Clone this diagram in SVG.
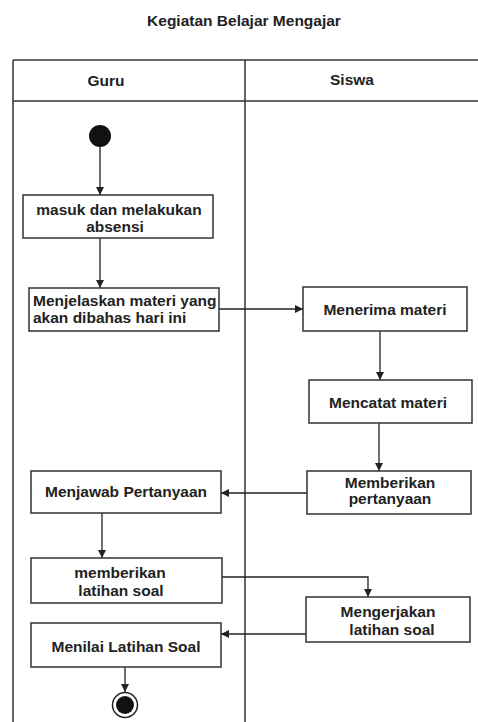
<svg xmlns="http://www.w3.org/2000/svg" width="478" height="722" viewBox="0 0 478 722">
  <style>
    text { font-family: "Liberation Sans", Arial, sans-serif; font-size: 15.5px; font-weight: bold; fill: #222; }
    .c { text-anchor: middle; }
    .lane { stroke: #333; stroke-width: 1.5; fill: none; }
    .box { fill: #fff; stroke: #333; stroke-width: 1.5; }
    .flow { stroke: #222; stroke-width: 1.3; fill: none; marker-end: url(#arrow); }
  </style>
  <defs>
    <marker id="arrow" viewBox="0 0 10 10" refX="10" refY="5" markerWidth="8" markerHeight="10" markerUnits="userSpaceOnUse" orient="auto">
      <path d="M0,0 L10,5 L0,10 z" fill="#222"/>
    </marker>
  </defs>
  <rect width="478" height="722" fill="#fff"/>

  <text class="c" x="244" y="26">Kegiatan Belajar Mengajar</text>

  <!-- swimlanes -->
  <g id="lanes">
    <line class="lane" x1="13" y1="60" x2="478" y2="60"/>
    <line class="lane" x1="13" y1="101" x2="478" y2="101"/>
    <line class="lane" x1="13" y1="60" x2="13" y2="722"/>
    <line class="lane" x1="245" y1="60" x2="245" y2="722"/>
    <text class="c" x="106" y="86">Guru</text>
    <text class="c" x="352" y="85">Siswa</text>
  </g>

  <!-- connectors -->
  <g id="connectors">
    <path class="flow" d="M100,147 V195"/>
    <path class="flow" d="M100,238 V288"/>
    <path class="flow" d="M219,309 H303"/>
    <path class="flow" d="M380,331 V380"/>
    <path class="flow" d="M379,423 V471"/>
    <path class="flow" d="M307,493 H221"/>
    <path class="flow" d="M102,513 V558"/>
    <path class="flow" d="M222,577 H368 V597"/>
    <path class="flow" d="M306,634 H221"/>
    <path class="flow" d="M125,667 V692"/>
  </g>

  <g id="start">
    <circle cx="100" cy="136" r="11" fill="#111"/>
  </g>

  <g id="masuk">
    <rect class="box" x="23" y="195" width="190" height="43"/>
    <text class="c" x="119" y="215">masuk dan melakukan</text>
    <text class="c" x="115" y="232">absensi</text>
  </g>

  <g id="menjelaskan">
    <rect class="box" x="29" y="288" width="190" height="43"/>
    <text x="33" y="306">Menjelaskan materi yang</text>
    <text x="33" y="323">akan dibahas hari ini</text>
  </g>

  <g id="menerima">
    <rect class="box" x="303" y="287" width="164" height="44"/>
    <text class="c" x="385" y="315">Menerima materi</text>
  </g>

  <g id="mencatat">
    <rect class="box" x="309" y="380" width="163" height="43"/>
    <text class="c" x="388" y="408">Mencatat materi</text>
  </g>

  <g id="memberikan-pertanyaan">
    <rect class="box" x="307" y="471" width="164" height="43"/>
    <text class="c" x="390" y="488">Memberikan</text>
    <text class="c" x="390" y="504">pertanyaan</text>
  </g>

  <g id="menjawab">
    <rect class="box" x="31" y="471" width="190" height="42"/>
    <text class="c" x="126" y="497">Menjawab Pertanyaan</text>
  </g>

  <g id="memberikan-latihan">
    <rect class="box" x="31" y="558" width="191" height="45"/>
    <text class="c" x="120" y="578">memberikan</text>
    <text class="c" x="121" y="596">latihan soal</text>
  </g>

  <g id="mengerjakan">
    <rect class="box" x="306" y="597" width="164" height="45"/>
    <text class="c" x="388" y="617">Mengerjakan</text>
    <text class="c" x="392" y="635">latihan soal</text>
  </g>

  <g id="menilai">
    <rect class="box" x="31" y="623" width="190" height="44"/>
    <text class="c" x="126" y="652">Menilai Latihan Soal</text>
  </g>

  <g id="end">
    <circle cx="125" cy="705" r="12.5" fill="#fff" stroke="#222" stroke-width="1.5"/>
    <circle cx="125" cy="705" r="9" fill="#111"/>
  </g>
</svg>
